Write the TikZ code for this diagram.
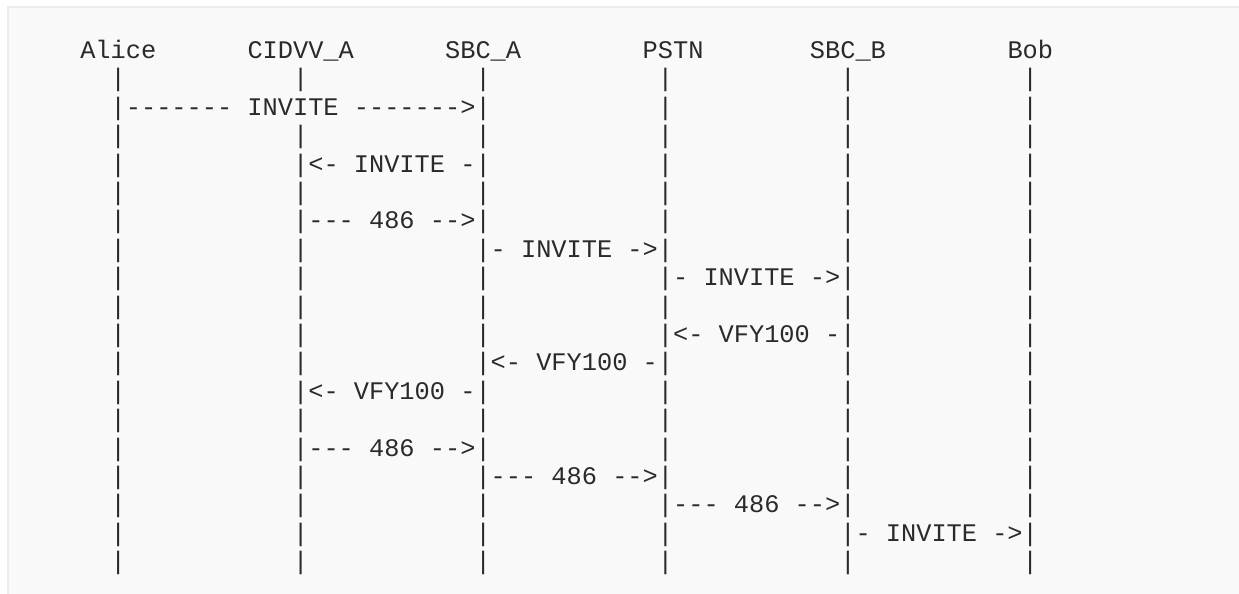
\documentclass[tikz,border=0pt]{standalone}
\usepackage{fontspec}
\newfontfamily\seqfont{Liberation Mono}[Ligatures=TeXOff]
\usetikzlibrary{positioning}
\definecolor{ink}{HTML}{2A2A2A}
\definecolor{panel}{HTML}{F9F9F9}
\definecolor{rim}{HTML}{ECECEC}
\newcommand\colpos[1]{34.7+15.2*#1}
\newcommand\rowpos[1]{58.4+28.4*#1}

\begin{document}
\begin{tikzpicture}[
    x=1pt, y=-1pt,
    txt/.style={anchor=base west, inner sep=0pt, outer sep=0pt, text=ink, font=\seqfont\fontsize{25.33}{28.4}\selectfont},
    actor/.style={txt},
    msg/.style={txt}
]
\useasboundingbox (0,0) rectangle (1239,594);
\fill[white] (0,0) rectangle (1239,594);
\filldraw[fill=panel, draw=rim, line width=2pt] (8,7) rectangle (1260,610);

% Participants
\node (alice) [actor] at ({\colpos{3}},{\rowpos{0}}) {Alice};
\node (cidvv) [actor] at ({\colpos{14}},{\rowpos{0}}) {CIDVV\_A};
\node (sbca) [actor] at ({\colpos{27}},{\rowpos{0}}) {SBC\_A};
\node (pstn) [actor] at ({\colpos{40}},{\rowpos{0}}) {PSTN};
\node (sbcb) [actor] at ({\colpos{51}},{\rowpos{0}}) {SBC\_B};
\node (bob) [actor] at ({\colpos{64}},{\rowpos{0}}) {Bob};

% Lifelines
\foreach \c in {5,29,41,53,65}
  \foreach \r in {1,...,18}
    \node (l\c-\r) [txt] at ({\colpos{\c}},{\rowpos{\r}}) {|};
\foreach \r in {1,3,4,...,18}
  \node (l17-\r) [txt] at ({\colpos{17}},{\rowpos{\r}}) {|};

% Messages
\node (invite1) [msg, base right=0pt of l5-2] {------- INVITE ------->};
\node (invite2) [msg, base right=0pt of l17-4] {<- INVITE -};
\node (busy1) [msg, base right=0pt of l17-6] {--- 486 -->};
\node (invite3) [msg, base right=0pt of l29-7] {- INVITE ->};
\node (invite4) [msg, base right=0pt of l41-8] {- INVITE ->};
\node (vfy1) [msg, base right=0pt of l41-10] {<- VFY100 -};
\node (vfy2) [msg, base right=0pt of l29-11] {<- VFY100 -};
\node (vfy3) [msg, base right=0pt of l17-12] {<- VFY100 -};
\node (busy2) [msg, base right=0pt of l17-14] {--- 486 -->};
\node (busy3) [msg, base right=0pt of l29-15] {--- 486 -->};
\node (busy4) [msg, base right=0pt of l41-16] {--- 486 -->};
\node (invite5) [msg, base right=0pt of l53-17] {- INVITE ->};

\end{tikzpicture}
\end{document}
